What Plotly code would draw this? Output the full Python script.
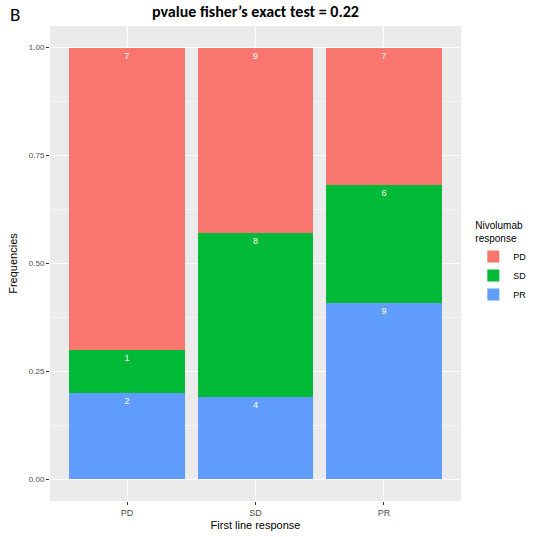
import plotly.graph_objects as go

categories = ["PD", "SD", "PR"]
series_names = ["PR", "SD", "PD"]
counts = {
    "PR": [2, 4, 9],
    "SD": [1, 8, 6],
    "PD": [7, 9, 7],
}
colors = {"PD": "#F8766D", "SD": "#00BA38", "PR": "#619CFF"}
y_ticks = [0, 0.25, 0.5, 0.75, 1.0]
y_tick_labels = ["0.00", "0.25", "0.50", "0.75", "1.00"]

totals = [sum(counts[s][i] for s in series_names) for i in range(len(categories))]

fig = go.Figure()
for s in series_names:
    freqs = [counts[s][i] / totals[i] for i in range(len(categories))]
    fig.add_trace(go.Bar(
        x=categories, y=freqs, name=s,
        marker=dict(color=colors[s], line=dict(width=0)),
        text=[str(v) for v in counts[s]],
        textposition="inside", insidetextanchor="end",
        textfont=dict(color="white", size=9, family="Liberation Sans, Arial"),
        width=0.9,
    ))

fig.update_layout(
    barmode="stack",
    width=534, height=537,
    margin=dict(l=50, r=73, t=26, b=36, autoexpand=False),
    paper_bgcolor="white",
    plot_bgcolor="#EBEBEB",
    font=dict(family="Liberation Sans, Arial", color="#4D4D4D"),
    title=dict(text="<b>pvalue fisher’s exact test = 0.22</b>", x=0.5, xanchor="center",
               xref="paper", y=0.99, yanchor="top",
               font=dict(size=16, color="black", family="Carlito, Liberation Sans, Arial")),
    legend=dict(
        title=dict(text="Nivolumab<br>response", font=dict(size=10, color="black")),
        traceorder="reversed",
        x=1.03, xanchor="left", y=0.6, yanchor="top",
        font=dict(size=9, color="black"),
        bgcolor="rgba(0,0,0,0)",
        itemwidth=30,
        tracegroupgap=0,
    ),
    bargap=0.1,
    showlegend=True,
)
fig.update_xaxes(
    range=[-0.6, 2.6], automargin=False,
    showgrid=True, gridcolor="white", gridwidth=1,
    ticks="outside", ticklen=3, tickcolor="#333333",
    tickfont=dict(size=9, color="#4D4D4D"),
    title=dict(text="First line response", font=dict(size=11, color="black"), standoff=4),
    zeroline=False, showline=False,
)
fig.update_yaxes(
    range=[-0.05, 1.05], automargin=False,
    tickvals=y_ticks, ticktext=y_tick_labels,
    showgrid=True, gridcolor="white", gridwidth=1,
    minor=dict(tickvals=[0.125, 0.375, 0.625, 0.875], showgrid=True, gridcolor="#F5F5F5", gridwidth=0.5, ticks=""),
    ticks="outside", ticklen=3, tickcolor="#333333",
    tickfont=dict(size=8, color="#4D4D4D"),
    title=dict(text="Frequencies", font=dict(size=11, color="black"), standoff=8),
    zeroline=False, showline=False,
)
fig.add_annotation(text="B", x=0.0, y=1.0, xref="paper", yref="paper",
                   xanchor="left", yanchor="bottom",
                   xshift=-42, yshift=-2, showarrow=False,
                   font=dict(size=19, color="black", family="Carlito, Liberation Sans, Arial"))

fig.write_html("out.html", config={"displayModeBar": False})

with open("out.html", "r", encoding="utf-8") as f:
    html = f.read()
html = html.replace("<head>", "<head><style>html,body{margin:0;padding:0;overflow:hidden;}</style>", 1)
with open("out.html", "w", encoding="utf-8") as f:
    f.write(html)
